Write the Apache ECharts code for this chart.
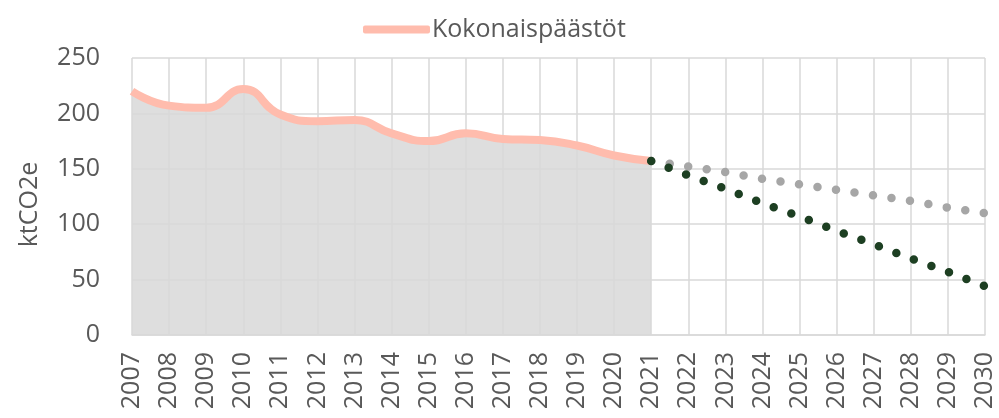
<!DOCTYPE html>
<html>
<head>
<meta charset="utf-8">
<script src="https://cdn.jsdelivr.net/npm/echarts@6/dist/echarts.min.js"></script>
<style>
  html, body { margin: 0; padding: 0; background: #fff; }
  #chart { width: 999px; height: 418px; }
</style>
</head>
<body>
<div id="chart"></div>
<script>
const years = ['2007', '2008', '2009', '2010', '2011', '2012', '2013', '2014', '2015', '2016', '2017', '2018', '2019', '2020', '2021', '2022', '2023', '2024', '2025', '2026', '2027', '2028', '2029', '2030']
// toteutuneet päästöt 2007–2021
const totalEmissions = [220, 207, 205, 222, 199, 193, 194, 182, 175, 182, 177, 176, 171, 162, 157, '-', '-', '-', '-', '-', '-', '-', '-', '-']
// ennusteet 2021–2030
const projectionGrey = ['-', '-', '-', '-', '-', '-', '-', '-', '-', '-', '-', '-', '-', '-', 157, 152, 147, 141, 136, 131, 126, 121, 115, 110]
const projectionGreen = ['-', '-', '-', '-', '-', '-', '-', '-', '-', '-', '-', '-', '-', '-', 157, 144, 132, 119, 107, 94, 82, 69, 57, 44]
const yTicks = [0, 50, 100, 150, 200, 250]

const FONT = '"Open Sans", sans-serif'
const TEXT = '#595959'
const GRID = '#d9d9d9'

const chart = echarts.init(document.getElementById('chart'))

chart.setOption({
  animation: false,
  textStyle: { fontFamily: FONT },
  legend: {
    top: 12,
    left: 358,
    data: [{ name: 'Kokonaispäästöt', icon: 'roundRect' }],
    itemWidth: 67,
    itemHeight: 8,
    itemGap: 10,
    itemStyle: { color: '#ffbcad', borderWidth: 0 },
    textStyle: { fontSize: 25, color: TEXT, fontFamily: FONT, padding: [0, 0, 0, -3] }
  },
  grid: { left: 132, right: 14, top: 58, bottom: 83 },
  xAxis: {
    type: 'category',
    data: years,
    boundaryGap: false,
    z: 3,
    axisLine: { show: true, lineStyle: { color: GRID, width: 1.5 } },
    axisTick: { show: false },
    splitLine: { show: true, lineStyle: { color: GRID, width: 1.5 } },
    axisLabel: { rotate: 90, margin: 17, fontSize: 25, color: TEXT, fontFamily: FONT, interval: 0 }
  },
  yAxis: {
    type: 'value',
    min: yTicks[0],
    max: yTicks[yTicks.length - 1],
    interval: 50,
    z: 3,
    name: 'ktCO2e',
    nameLocation: 'middle',
    nameGap: 90,
    nameTextStyle: { fontSize: 25, color: TEXT, fontFamily: FONT, padding: [0, 16, 0, 0] },
    axisLine: { show: false },
    axisTick: { show: false },
    splitLine: { lineStyle: { color: GRID, width: 1.5 } },
    axisLabel: { margin: 32, fontSize: 25, color: TEXT, fontFamily: FONT }
  },
  series: [
    {
      // harmaa pinta viivan alla
      name: 'area',
      type: 'line',
      data: totalEmissions,
      smooth: 0.5,
      symbol: 'none',
      z: 1,
      lineStyle: { width: 0 },
      areaStyle: { color: '#dedede', opacity: 1 }
    },
    {
      name: 'Kokonaispäästöt',
      type: 'line',
      data: totalEmissions,
      smooth: 0.5,
      symbol: 'none',
      z: 5,
      lineStyle: { color: '#ffbcad', width: 8 },
      itemStyle: { color: '#ffbcad' }
    },
    {
      name: 'ennuste1',
      type: 'line',
      data: projectionGrey,
      symbol: 'none',
      z: 6,
      lineStyle: { color: '#a6a6a6', width: 8.5, type: [0, 18.7], cap: 'round' }
    },
    {
      name: 'ennuste2',
      type: 'line',
      data: projectionGreen,
      symbol: 'none',
      z: 7,
      lineStyle: { color: '#1d3f22', width: 8.5, type: [0, 18.7], cap: 'round' }
    }
  ]
})
</script>
</body>
</html>
